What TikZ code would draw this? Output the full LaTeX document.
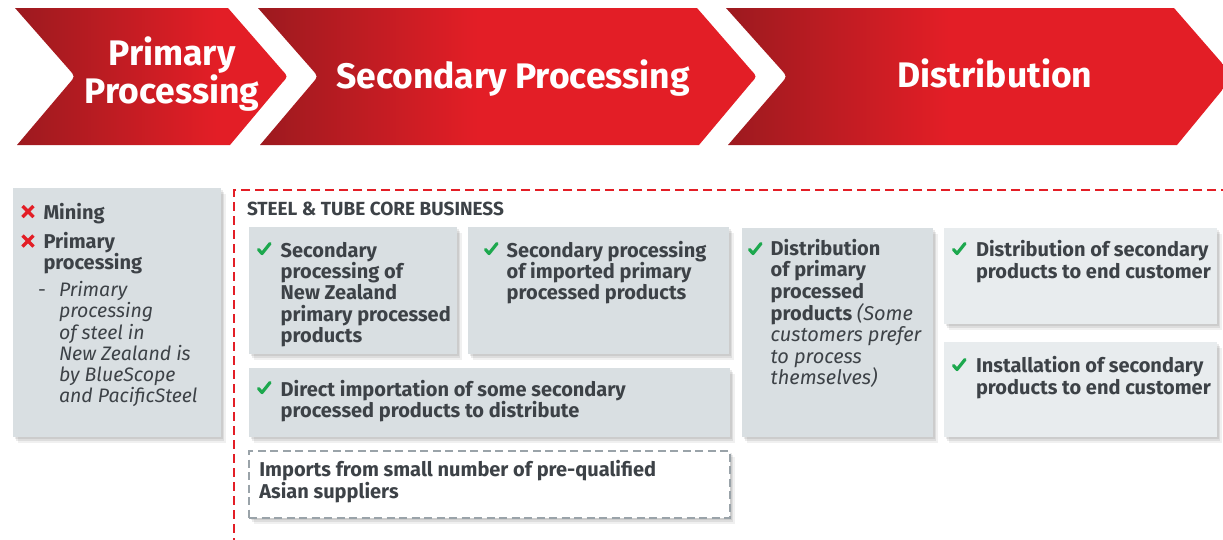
\documentclass[tikz,border=0pt]{standalone}
\usepackage{fontspec}
\setmainfont{Fira Sans}
\usetikzlibrary{shadows}
\definecolor{brred}{HTML}{E31E26}
\definecolor{dkred}{HTML}{9C1A1F}
\definecolor{boxgrey}{HTML}{D9DFE2}
\definecolor{boxlight}{HTML}{E8ECEE}
\definecolor{txtgrey}{HTML}{3D4247}
\definecolor{chkgreen}{HTML}{1DA84E}
\definecolor{dashgrey}{HTML}{9AA3A9}
\pgfdeclarehorizontalshading{redgradA}{100bp}{color(0bp)=(dkred); color(25bp)=(dkred); color(62bp)=(brred); color(100bp)=(brred)}
\pgfdeclarehorizontalshading{redgradB}{100bp}{color(0bp)=(dkred); color(25bp)=(dkred); color(47bp)=(brred); color(100bp)=(brred)}
\newcommand{\bodyfnt}{\fontsize{20}{21.3}\selectfont\bfseries}
\newcommand{\itfnt}{\mdseries\itshape}
\begin{document}
\begin{tikzpicture}[x=1pt,y=-1pt,
  every node/.style={inner sep=0pt,outer sep=0pt},
  shadowed/.style={drop shadow={shadow xshift=5pt,shadow yshift=-6pt,opacity=.06,fill=black},
                   drop shadow={shadow xshift=3pt,shadow yshift=-4pt,opacity=.08,fill=black},
                   drop shadow={shadow xshift=1.5pt,shadow yshift=-2pt,opacity=.08,fill=black}},
  box/.style={rectangle,anchor=north west,fill=boxgrey,shadowed},
  lbox/.style={box,fill=boxlight},
  dbox/.style={rectangle,anchor=north west,fill=white,draw=dashgrey,line width=2.3pt,dash pattern=on 8pt off 4.5pt,shadowed},
  txt/.style={anchor=base west,align=left,text=txtgrey,font=\bodyfnt},
  ttl/.style={align=center,text=white,font=\fontsize{35.5}{31.6}\selectfont\bfseries},
  reddash/.style={draw=brred,line width=2.8pt,dash pattern=on 9pt off 5pt},
  chk/.pic={\draw[chkgreen,line width=3.2pt,line cap=round,line join=round] (1.5,6.5) -- (5,10.5) -- (13,0.5);},
  crs/.pic={\draw[brred,line width=3.4pt] (-5.5,-5.5) -- (5.5,5.5) (-5.5,5.5) -- (5.5,-5.5);}
]
\useasboundingbox (0,0) rectangle (1223,539);
% chevrons
\shade[shading=redgradA] (15,8) -- (228,8) -- (282,70) .. controls (288,76.5) .. (282,83) -- (230,145) -- (17,145) -- (69.5,83) .. controls (75,76.5) .. (69.5,70) -- cycle;
\shade[shading=redgradB] (258,8) -- (697,8) -- (751,70) .. controls (757,76.5) .. (751,83) -- (699,145) -- (260,145) -- (312.5,83) .. controls (318,76.5) .. (312.5,70) -- cycle;
\shade[shading=redgradB] (726,8) -- (1174,8) -- (1228,70) .. controls (1234,76.5) .. (1228,83) -- (1177,145) -- (728,145) -- (781.5,83) .. controls (787,76.5) .. (781.5,70) -- cycle;
\node[ttl,anchor=base] (t1) at (172,103.3) {Primary\\Processing};
\node[ttl,anchor=base] (t2) at (513,88) {Secondary Processing};
\node[ttl,anchor=base] (t3) at (995,87.3) {Distribution};
% left box
\node[box,minimum width=208pt,minimum height=249pt] (lb) at (13,188) {};
\pic at (28,211.5) {crs};
\pic at (28,241) {crs};
\node[txt] (m1) at (43.5,219.3) {Mining};
\node[txt] (m2) at (43.5,269.5) {Primary\\processing};
\node[txt,font=\fontsize{19.5}{21.3}\selectfont] (m3) at (38,296.7) {-};
\node[txt,font=\fontsize{19.5}{21.2}\selectfont\itshape] (m4) at (59,402.7) {Primary\\processing\\of steel in\\New Zealand is\\by BlueScope\\and PacificSteel};
% red dashed frame
\coordinate (fr1) at (1230,190);
\coordinate (fr2) at (234,190);
\coordinate (fr3) at (234,545);
\draw[reddash] (fr1) -- (fr2) -- (fr3);
\node[txt,font=\fontsize{19}{20}\selectfont\bfseries] (core) at (247,215.7) {STEEL \& TUBE CORE BUSINESS};
% boxes
\node[box,minimum width=208pt,minimum height=127pt] (bA) at (249,227) {};
\node[box,minimum width=261pt,minimum height=127pt] (bB) at (468,227) {};
\node[box,minimum width=481pt,minimum height=69pt] (bC) at (249,368) {};
\node[box,minimum width=191pt,minimum height=209pt] (bD) at (742,228) {};
\node[lbox,minimum width=273pt,minimum height=96pt] (bE) at (944,228) {};
\node[lbox,minimum width=273pt,minimum height=95pt] (bF) at (944,342) {};
\node[dbox,minimum width=481pt,minimum height=67pt] (bG) at (249,451) {};
% checks
\pic at (257,243) {chk};
\pic at (484,243) {chk};
\pic at (257,382) {chk};
\pic at (748,243) {chk};
\pic at (952,243) {chk};
\pic at (952,359) {chk};
% texts
\node[txt] (xA) at (280.7,342.5) {Secondary\\processing of\\New Zealand\\primary processed\\products};
\node[txt] (xB) at (506.7,299.9) {Secondary processing\\of imported primary\\processed products};
\node[txt] (xC) at (280.7,417.3) {Direct importation of some secondary\\processed products to distribute};
\node[txt] (xD) at (770.7,384.5) {Distribution\\of primary\\processed\\products {\itfnt(Some}\\{\itfnt customers prefer}\\{\itfnt to process}\\{\itfnt themselves)}};
\node[txt] (xE) at (976,278) {Distribution of secondary\\products to end customer};
\node[txt] (xF) at (976,394) {Installation of secondary\\products to end customer};
\node[txt,font=\fontsize{20}{20.2}\selectfont\bfseries] (xG) at (259.3,498.5) {Imports from small number of pre-qualified\\Asian suppliers};
\end{tikzpicture}
\end{document}
